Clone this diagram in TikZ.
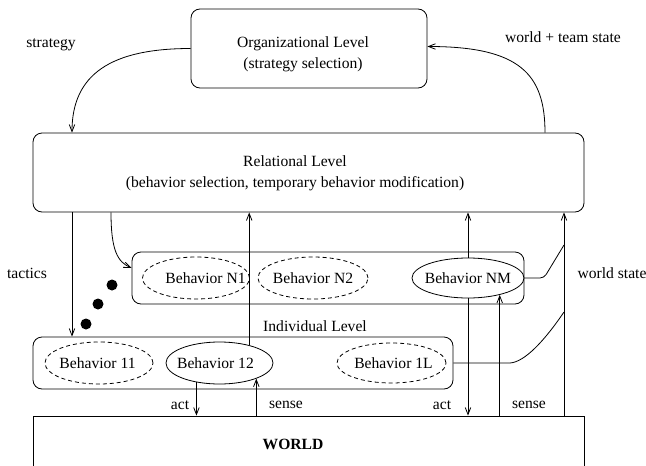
\documentclass[tikz,border=0pt]{standalone}
\usepackage{fontspec}
\setmainfont{Liberation Serif}
\usetikzlibrary{arrows.meta,shapes.geometric,calc}
\begin{document}
\begin{tikzpicture}[x=1pt,y=-1pt,
  every node/.style={font=\fontsize{15.6}{21}\selectfont},
  box/.style={draw, rounded corners=9pt, line width=0.8pt, inner sep=0pt},
  bhv/.style={draw, ellipse, line width=0.8pt, inner sep=0pt, minimum width=108pt, minimum height=42pt},
  dbhv/.style={bhv, dash pattern=on 4pt off 3pt},
  lbl/.style={inner sep=0pt},
  dot/.style={circle, fill, inner sep=0pt, minimum size=11pt},
  conn/.style={line width=0.8pt, -{Straight Barb[length=7pt,width=5.5pt]}},
  plain/.style={line width=0.8pt}]
\useasboundingbox (0,0) rectangle (646,466);
\clip (0,0) rectangle (646,466);

% boxes
\node[box, minimum width=236pt, minimum height=79pt] (org) at (309,48.5) {};
\node[lbl, align=center] (orgt) at (303,54) {Organizational Level\\(strategy selection)};
\node[box, minimum width=551pt, minimum height=79pt] (rel) at (308.5,172.5) {};
\node[lbl, align=center] (relt) at (295,173) {Relational Level\\(behavior selection, temporary behavior modification)};
\node[box, minimum width=392pt, minimum height=52pt] (nb) at (328,278) {};
\node[box, minimum width=420pt, minimum height=52pt] (ib) at (243,363) {};
\node[draw, line width=0.8pt, minimum width=551pt, minimum height=84pt, inner sep=0pt] (w) at (308.5,458) {};
\node[lbl] (wt) at (293,444) {\bfseries WORLD};

% behaviors
\node[dbhv, minimum width=107pt, label={[xshift=9.5pt]center:Behavior N1}] (n1) at (196,278) {};
\node[dbhv, minimum width=110pt, label={center:Behavior N2}] (n2) at (313,278) {};
\node[bhv, minimum width=112pt, minimum height=40pt, label={center:Behavior NM}] (nm) at (468,278) {};
\node[dbhv, label={[xshift=-1.5pt]center:Behavior 11}] (b11) at (99,363) {};
\node[bhv, minimum width=107pt, label={[xshift=-4pt]center:Behavior 12}] (b12) at (219.5,363) {};
\node[dbhv, minimum width=109pt, minimum height=40pt, label={[xshift=2pt]center:Behavior 1L}] (b1l) at (391.5,363) {};

% dots
\node[dot] (d1) at (112,285) {};
\node[dot] (d2) at (98,304) {};
\node[dot] (d3) at (86,324) {};

% labels
\node[lbl] (ls) at (51,45) {strategy};
\node[lbl] (lwt) at (563,37) {world + team state};
\node[lbl] (lt) at (27,273) {tactics};
\node[lbl] (lws) at (612,273) {world state};
\node[lbl] (lil) at (315,326) {Individual Level};
\node[lbl] (la1) at (180,405) {act};
\node[lbl] (ls1) at (286,405) {sense};
\node[lbl] (la2) at (442,405) {act};
\node[lbl] (ls2) at (529,405) {sense};

% helper coordinates
\coordinate (tacX) at (72,0);
\coordinate (c1) at (111,0);
\coordinate (wtX) at (545,0);
\coordinate (wsX) at (564,0);
\coordinate (j1) at (564,245);
\coordinate (j2) at (564,312);
\coordinate (k1) at (544,278);
\coordinate (k2) at (510,363);

% connectors
\draw[conn] (org.west) .. controls +(-80,0) and +(0,-58) .. (tacX |- rel.north);
\draw[conn] (wtX |- rel.north) .. controls +(0,-58) and +(93,0) .. ($(org.east)+(0,-2)$);
\draw[conn] (tacX |- rel.south) -- (tacX |- ib.north);
\draw[conn] (c1 |- rel.south) .. controls +(0,38) and +(-14,-6) .. ($(nb.west)+(0,-10)$);
\draw[conn] (b12.31) -- (b12.31 |- rel.south);
\draw[conn] (nm.north) -- (nm.north |- rel.south);
\draw[conn] (wsX |- w.north) -- (wsX |- rel.south);
\draw[plain, rounded corners=4pt] (nb.east) -- (k1) -- (j1);
\draw[plain] (ib.east) -- (k2) .. controls +(15,-1) and +(-19,28) .. (j2);
\draw[conn] (b12.-140) -- (b12.-140 |- w.north);
\draw[conn] (b12.-23 |- w.north) -- (b12.-23);
\draw[conn] (nm.south) -- (nm.south |- w.north);
\draw[conn] (nm.-28 |- w.north) -- (nm.-28);
\end{tikzpicture}
\end{document}
